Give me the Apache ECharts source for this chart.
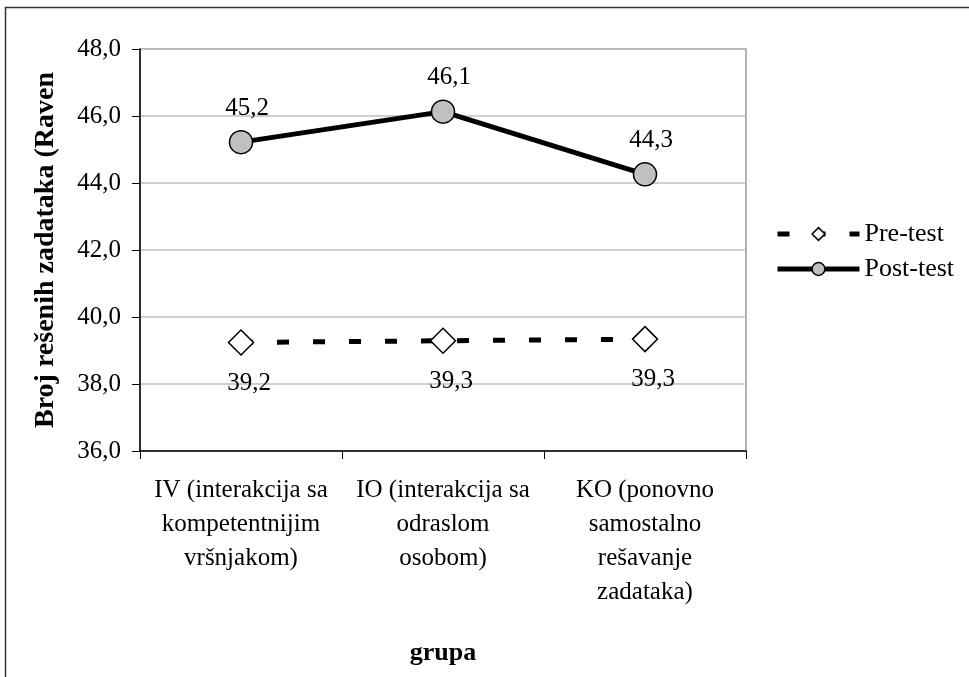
<!DOCTYPE html>
<html>
<head>
<meta charset="utf-8">
<script src="https://cdn.jsdelivr.net/npm/echarts@6/dist/echarts.min.js"></script>
<style>
  html, body { margin: 0; padding: 0; background: #fff; }
  #chart { width: 969px; height: 677px; }
</style>
</head>
<body>
<div id="chart"></div>
<script>
const groups = [
  'IV (interakcija sa\nkompetentnijim\nvršnjakom)',
  'IO (interakcija sa\nodraslom\nosobom)',
  'KO (ponovno\nsamostalno\nrešavanje\nzadataka)'
]
const preTest = [39.24, 39.29, 39.34]
const postTest = [45.22, 46.13, 44.26]
const yTicks = { min: 36, max: 48, step: 2 }

const font = 'Liberation Serif'
const fmt = (v) => Number(v).toFixed(1).replace('.', ',')

const chart = echarts.init(document.getElementById('chart'))

chart.setOption({
  animation: false,
  backgroundColor: '#fff',
  textStyle: { fontFamily: font, color: '#000' },
  // outer frame, only top and left edges are visible in the picture
  graphic: [{
    type: 'rect',
    shape: { x: 5.5, y: 7.5, width: 2000, height: 2000 },
    style: { fill: 'none', stroke: '#333', lineWidth: 1.5 },
    silent: true
  }],
  grid: {
    left: 140, right: 223, top: 49, bottom: 226,
    show: true,
    borderColor: '#999',
    borderWidth: 1.5
  },
  legend: {
    orient: 'vertical',
    left: 770,
    top: 216,
    itemWidth: 82,
    itemHeight: 16,
    itemGap: 9,
    lineStyle: { width: 5 },
    itemStyle: { borderWidth: 1.5 },
    textStyle: { fontFamily: font, fontSize: 26, color: '#000' },
    data: ['Pre-test', 'Post-test']
  },
  xAxis: {
    type: 'category',
    data: groups,
    boundaryGap: true,
    name: 'grupa',
    nameLocation: 'middle',
    nameGap: 189,
    nameTextStyle: { fontFamily: font, fontSize: 26, fontWeight: 'bold', color: '#000' },
    axisLine: { lineStyle: { color: '#000', width: 1.5 } },
    axisTick: { show: true, length: 8, interval: 0, lineStyle: { color: '#000', width: 1 } },
    axisLabel: {
      interval: 0,
      margin: 22,
      fontFamily: font,
      fontSize: 25,
      lineHeight: 34,
      color: '#000'
    },
    splitLine: { show: false }
  },
  yAxis: {
    type: 'value',
    min: yTicks.min,
    max: yTicks.max,
    interval: yTicks.step,
    name: 'Broj rešenih zadataka (Raven',
    nameLocation: 'middle',
    nameRotate: 90,
    nameGap: 80,
    nameTextStyle: { fontFamily: font, fontSize: 28, fontWeight: 'bold', color: '#000' },
    axisLine: { show: true, lineStyle: { color: '#000', width: 1.5 } },
    axisTick: { show: true, length: 8, lineStyle: { color: '#000', width: 1 } },
    axisLabel: {
      margin: 19,
      fontFamily: font,
      fontSize: 25,
      color: '#000',
      formatter: fmt
    },
    splitLine: { lineStyle: { color: '#bfbfbf', width: 1.5 } }
  },
  series: [
    {
      name: 'Pre-test',
      type: 'line',
      data: preTest,
      symbol: 'diamond',
      symbolSize: 25,
      z: 3,
      lineStyle: { color: '#000', width: 5, type: [12, 24] },
      itemStyle: { color: '#fff', borderColor: '#000', borderWidth: 1.5 },
      label: {
        show: true,
        position: 'bottom',
        distance: 15,
        offset: [8, 0],
        fontFamily: font,
        fontSize: 25,
        color: '#000',
        formatter: (p) => fmt(p.value)
      }
    },
    {
      name: 'Post-test',
      type: 'line',
      data: postTest,
      symbol: 'circle',
      symbolSize: 23,
      z: 4,
      lineStyle: { color: '#000', width: 5 },
      itemStyle: { color: '#c0c0c0', borderColor: '#000', borderWidth: 1.5 },
      label: {
        show: true,
        position: 'top',
        distance: 9,
        offset: [6, 0],
        fontFamily: font,
        fontSize: 25,
        color: '#000',
        formatter: (p) => fmt(p.value)
      }
    }
  ]
})
</script>
</body>
</html>
